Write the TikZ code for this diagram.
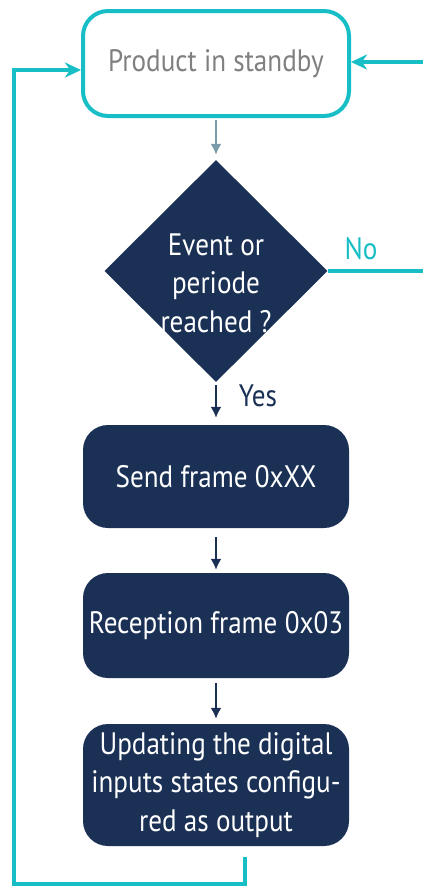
\documentclass[tikz,border=0pt]{standalone}
\usepackage{fontspec}
\setmainfont[FakeStretch=0.875]{PT Sans}
\usetikzlibrary{shapes.geometric,arrows.meta}
\definecolor{tealc}{HTML}{17BEC5}
\definecolor{navy}{HTML}{1A3055}
\definecolor{grayt}{HTML}{808080}
\definecolor{arrowgray}{HTML}{7A9BA8}
\begin{document}
\begin{tikzpicture}[x=1pt,y=-1pt,
  txt/.style={font=\fontsize{31}{38.5}\selectfont},
  procbox/.style={txt, rounded corners=25pt, fill=navy, text=white, minimum width=266pt, align=center, inner sep=0pt},
  navyarrow/.style={draw=navy, line width=2pt, -{Latex[length=11pt,width=11pt]}},
  tealline/.style={draw=tealc, line width=4pt},
  tealarrow/.style={tealline, -{Stealth[length=16pt,width=15pt,inset=5pt]}}]
\useasboundingbox (0,0) rectangle (423,887);
\clip (0,0) rectangle (423,887);
\node[txt, draw=tealc, line width=4pt, rounded corners=25pt, minimum width=266pt, minimum height=105pt, text=grayt] (top) at (216,63.5) {\raisebox{-3pt}{Product in standby}};
\node[diamond, fill=navy, minimum width=223pt, minimum height=222pt, inner sep=0pt] (dec) at (216,271) {};
\node[txt, text=white, align=center] (dectext) at (216,283) {Event or\\periode\\reached ?};
\node[procbox, minimum height=103pt] (b2) at (216,476.5) {\raisebox{-1pt}{Send frame 0xXX}};
\node[procbox, minimum height=105pt] (b3) at (216,625.5) {\raisebox{-3pt}{Reception frame 0x03}};
\node[procbox, minimum height=122pt] (b4) at (216,785) {Updating the digital\\inputs states configu-\\red as output};
\node[txt, text=navy] (yes) at (258,396) {Yes};
\node[txt, text=tealc] (no) at (361,249) {No};
\draw[draw=arrowgray, line width=2pt, -{Latex[length=11pt,width=11pt]}, shorten <=2pt, shorten >=5pt] (top.south) -- (dec.north);
\draw[navyarrow, shorten <=3pt, shorten >=7pt] (dec.south) -- (b2.north);
\draw[navyarrow, shorten <=9pt, shorten >=3pt] (b2.south) -- (b3.north);
\draw[navyarrow, shorten <=5pt, shorten >=5pt] (b3.south) -- (b4.north);
\coordinate (noend) at (432,271);
\draw[tealarrow] (dec.east) -- (noend) |- ([yshift=1.5pt]top.east);
\coordinate (fbstart) at (245,857);
\coordinate (fbcorner) at (14,884);
\draw[tealarrow] (fbstart) |- (fbcorner) |- ([yshift=-6.5pt]top.west);
\end{tikzpicture}
\end{document}
